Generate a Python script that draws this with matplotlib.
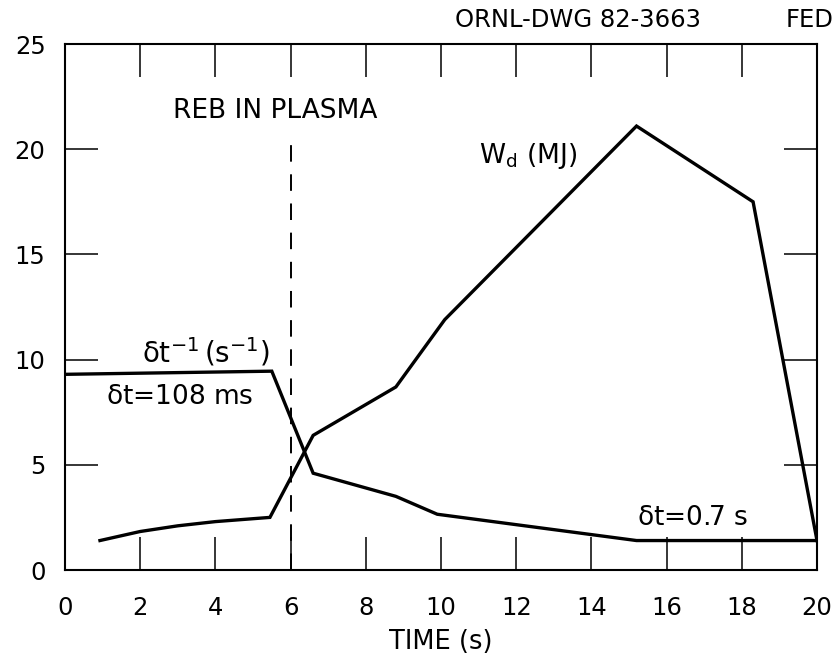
import matplotlib
matplotlib.use("Agg")
import matplotlib.pyplot as plt

# Stored energy W_d (MJ) versus time
time_wd = [0.93, 2.0, 3.0, 4.0, 5.45, 6.6, 8.8, 10.1, 15.2, 18.3, 20.0]
wd_mj = [1.4, 1.83, 2.1, 2.3, 2.5, 6.4, 8.7, 11.9, 21.1, 17.5, 1.4]

# Inverse time step dt^-1 (s^-1) versus time
time_dt = [0.0, 5.5, 6.6, 8.8, 9.9, 15.2, 20.0]
dt_inv = [9.3, 9.45, 4.6, 3.5, 2.65, 1.4, 1.4]

x_ticks = [0, 2, 4, 6, 8, 10, 12, 14, 16, 18, 20]
y_ticks = [0, 5, 10, 15, 20, 25]
reb_time = 6.0
reb_top = 20.6

plt.rcParams['font.family'] = ['DejaVu Sans']
plt.rcParams['mathtext.fontset'] = 'dejavusans'

fig = plt.figure(figsize=(8.37, 6.60), dpi=100)
ax = fig.add_axes([65 / 837, 90 / 660, 752 / 837, 526 / 660])

ax.plot(time_wd, wd_mj, color='black', lw=2.4, solid_joinstyle='miter')
ax.plot(time_dt, dt_inv, color='black', lw=2.4, solid_joinstyle='miter')
ax.plot([reb_time, reb_time], [0, reb_top], color='black', lw=1.4,
        dashes=(8.5, 6.5))

ax.set_xlim(0, 20)
ax.set_ylim(0, 25)
ax.set_xticks(x_ticks)
ax.set_yticks(y_ticks)
ax.set_xticklabels([str(v) for v in x_ticks])
ax.set_yticklabels([str(v) for v in y_ticks])
ax.tick_params(axis='both', direction='in', length=24, width=1.1,
               labelsize=17.5, top=True, right=True, color='black')
ax.tick_params(axis='x', pad=19)
ax.tick_params(axis='y', pad=14)
for sp in ax.spines.values():
    sp.set_linewidth(1.5)

ax.set_xlabel('TIME (s)', fontsize=18.5, labelpad=6)

fs = 19
ax.text(2.87, 21.8, 'REB IN PLASMA', fontsize=fs, ha='left', va='center')
ax.text(11.0, 19.35, r'W$_\mathregular{d}$ (MJ)', fontsize=fs,
        ha='left', va='baseline')
ax.text(2.05, 9.85, r'$\mathregular{\delta t^{-1}\,(s^{-1})}$', fontsize=fs + 1,
        ha='left', va='baseline')
ax.text(1.1, 7.9, r'$\mathregular{\delta}$t=108 ms', fontsize=fs,
        ha='left', va='baseline')
ax.text(15.2, 2.14, r'$\mathregular{\delta}$t=0.7 s', fontsize=fs,
        ha='left', va='baseline')

fig.text(455 / 837, 1 - 20 / 660, 'ORNL-DWG 82-3663', fontsize=17.5,
         ha='left', va='center')
fig.text(834 / 837, 1 - 20 / 660, 'FED', fontsize=17.5, ha='right', va='center')

fig.savefig('out.png', dpi=100)
